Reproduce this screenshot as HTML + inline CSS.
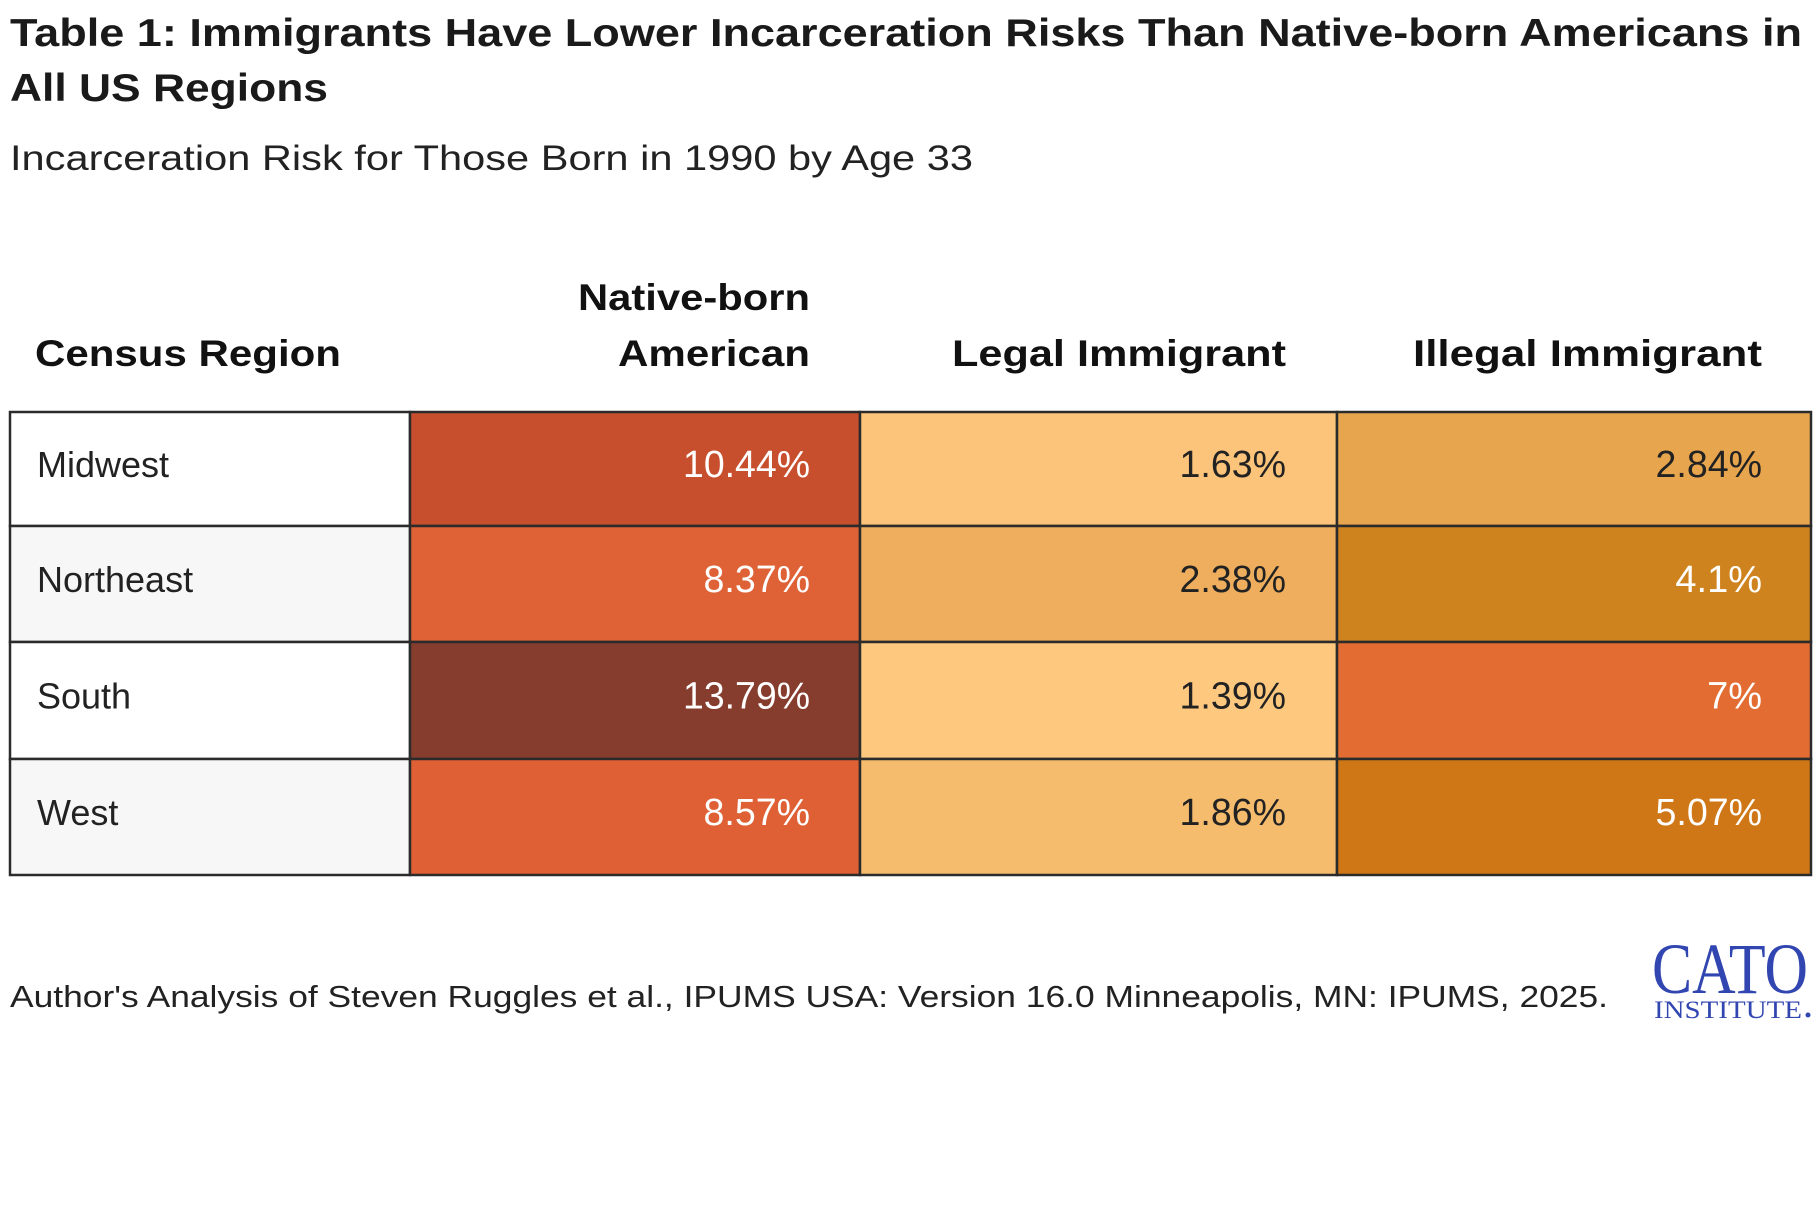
<!DOCTYPE html>
<html><head><meta charset="utf-8"><style>
html,body{margin:0;padding:0;background:#fff;}
svg{display:block;}
text{font-family:"Liberation Sans",sans-serif;}
text.serif{font-family:"Liberation Serif",serif;}
</style></head><body>
<svg id="chart" width="1820" height="1220" viewBox="0 0 1820 1220">
<rect width="1820" height="1220" fill="#fff"/>
<text x="10" y="46" font-size="39" font-weight="bold" fill="#1a1a1a" textLength="1792" lengthAdjust="spacingAndGlyphs">Table 1: Immigrants Have Lower Incarceration Risks Than Native-born Americans in</text>
<text x="10" y="101" font-size="39" font-weight="bold" fill="#1a1a1a" textLength="318" lengthAdjust="spacingAndGlyphs">All US Regions</text>
<text x="10" y="170" font-size="35" fill="#222" textLength="963" lengthAdjust="spacingAndGlyphs">Incarceration Risk for Those Born in 1990 by Age 33</text>
<g id="headers" font-weight="bold" font-size="37" fill="#111">
<text x="35" y="366" textLength="306" lengthAdjust="spacingAndGlyphs">Census Region</text>
<text x="810" y="310" text-anchor="end" textLength="232" lengthAdjust="spacingAndGlyphs">Native-born</text>
<text x="810" y="366" text-anchor="end" textLength="192" lengthAdjust="spacingAndGlyphs">American</text>
<text x="1286" y="366" text-anchor="end" textLength="334" lengthAdjust="spacingAndGlyphs">Legal Immigrant</text>
<text x="1762" y="366" text-anchor="end" textLength="349" lengthAdjust="spacingAndGlyphs">Illegal Immigrant</text>
</g>
<g id="cells"></g>
<text x="10" y="1007" font-size="31" fill="#222" textLength="1598" lengthAdjust="spacingAndGlyphs">Author's Analysis of Steven Ruggles et al., IPUMS USA: Version 16.0 Minneapolis, MN: IPUMS, 2025.</text>
<g fill="#3146b0">
<text class="serif" x="1652" y="993" font-size="72" textLength="156" lengthAdjust="spacingAndGlyphs">CATO</text>
<text class="serif" x="1654" y="1018" font-size="25" textLength="148" lengthAdjust="spacingAndGlyphs">INSTITUTE</text>
<circle cx="1808" cy="1015" r="2.5"/>
</g>
</svg>
<script>
var regions = ["Midwest", "Northeast", "South", "West"];
var nativeBorn = [10.44, 8.37, 13.79, 8.57];
var legalImm = [1.63, 2.38, 1.39, 1.86];
var illegalImm = [2.84, 4.1, 7, 5.07];
var nativeColors = ["#C84F2E", "#DF6236", "#873D2D", "#DE6034"];
var legalColors = ["#FBC47A", "#EEAE5E", "#FEC97F", "#F6BC6E"];
var illegalColors = ["#E7A54E", "#CF831E", "#E36C32", "#CF7716"];
var labelFills = ["#FFFFFF", "#F7F7F7", "#FFFFFF", "#F7F7F7"];

var NS = "http://www.w3.org/2000/svg";
var g = document.getElementById("cells");
var colX = [10, 410, 860, 1337, 1811];
var rowY = [412, 526, 642, 759, 875];
function yRow(i){ return rowY[i]; }
function fmt(v){ return v + "%"; }
function luminance(hex){
  var r=parseInt(hex.substr(1,2),16),gg=parseInt(hex.substr(3,2),16),b=parseInt(hex.substr(5,2),16);
  return 0.299*r+0.587*gg+0.114*b;
}
function cell(x0,x1,y0,y1,fill,txt,anchor,tx,name){
  var r=document.createElementNS(NS,"rect");
  r.setAttribute("x",x0);r.setAttribute("y",y0);r.setAttribute("width",x1-x0);r.setAttribute("height",y1-y0);
  r.setAttribute("fill",fill);r.setAttribute("stroke","#2b2b2b");r.setAttribute("stroke-width","2.5");
  
  
  g.appendChild(r);
  var t=document.createElementNS(NS,"text");
  t.setAttribute("x",tx);t.setAttribute("y",(y0+y1)/2+8);
  t.setAttribute("font-size","38");t.setAttribute("text-anchor",anchor);
  t.setAttribute("fill", anchor==="start" ? "#222" : (luminance(fill)<160 ? "#ffffff" : "#222"));
  t.textContent=txt;
  if(anchor!=="start"){
    if(txt.length>=5){
      t.setAttribute("textLength", String(txt.length*20.5+4));
      t.setAttribute("lengthAdjust","spacingAndGlyphs");
    }
  } else {
    t.setAttribute("font-size","36");
  }
  
  
  g.appendChild(t);
}
for(var i=0;i<regions.length;i++){
  var y0=yRow(i), y1=yRow(i+1);
  var key=regions[i].toLowerCase();
  cell(colX[0],colX[1],y0,y1,labelFills[i],regions[i],"start",37,"region-"+key);
  cell(colX[1],colX[2],y0,y1,nativeColors[i],fmt(nativeBorn[i]),"end",810,"native-born-"+key);
  cell(colX[2],colX[3],y0,y1,legalColors[i],fmt(legalImm[i]),"end",1286,"legal-immigrant-"+key);
  cell(colX[3],colX[4],y0,y1,illegalColors[i],fmt(illegalImm[i]),"end",1762,"illegal-immigrant-"+key);
}
</script>
</body></html>
